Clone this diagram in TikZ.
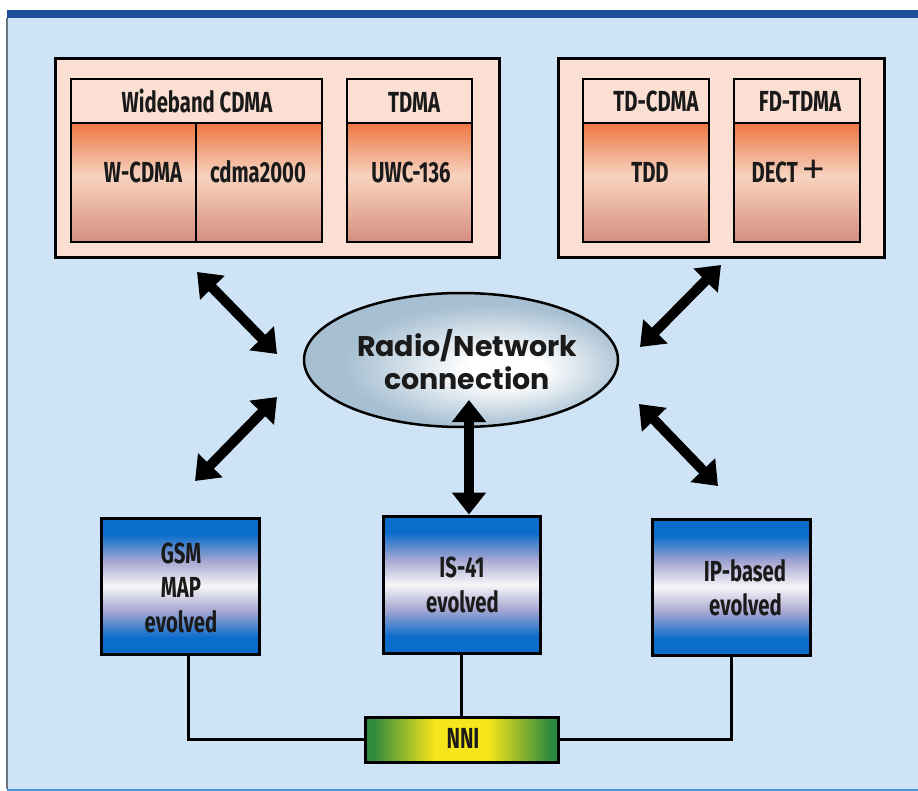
\documentclass[tikz,border=0pt]{standalone}
\usepackage{fontspec}
\usetikzlibrary{arrows.meta,shapes.geometric,calc}
\newfontfamily\condf[FakeStretch=0.70]{Fira Sans}
\newfontfamily\geof{Poppins}
\definecolor{panelblue}{HTML}{CFE3F6}
\definecolor{barblue}{HTML}{1E4E9C}
\definecolor{botblue}{HTML}{4A95D5}
\definecolor{leftgray}{HTML}{6A7580}
\definecolor{peachbg}{HTML}{FADFD2}
\definecolor{orangetop}{HTML}{EE7643}
\definecolor{peachmid}{HTML}{F6D2BF}
\definecolor{peachmidb}{HTML}{F1C3AE}
\definecolor{rosebot}{HTML}{D48E80}
\definecolor{boxblue}{HTML}{0A6CCB}
\definecolor{lavender}{HTML}{A8A8D2}
\definecolor{boxwhite}{HTML}{F6F6F8}
\definecolor{ellgray}{HTML}{A6BFD2}
\definecolor{nnigreen}{HTML}{2E8A3C}
\definecolor{nniyellow}{HTML}{F6E51A}
\definecolor{textdark}{HTML}{1A1A1A}
\pgfdeclarelayer{bg}
\pgfsetlayers{bg,main}
\pgfdeclareverticalshading{peachgrad}{100bp}{color(0bp)=(rosebot); color(25bp)=(rosebot); color(46bp)=(peachmidb); color(53bp)=(peachmid); color(75bp)=(orangetop); color(100bp)=(orangetop)}
\pgfdeclareverticalshading{bluegrad}{100bp}{color(0bp)=(boxblue); color(25bp)=(boxblue); color(31bp)=(boxblue); color(41bp)=(lavender); color(50bp)=(boxwhite); color(59bp)=(lavender); color(69bp)=(boxblue); color(75bp)=(boxblue); color(100bp)=(boxblue)}
\pgfdeclarehorizontalshading{nnigrad}{100bp}{color(0bp)=(nnigreen); color(27bp)=(nnigreen); color(43bp)=(nniyellow); color(57bp)=(nniyellow); color(73bp)=(nnigreen); color(100bp)=(nnigreen)}
\pgfdeclareradialshading{ellgrad}{\pgfpoint{8bp}{-4bp}}{color(0bp)=(white); color(6bp)=(white); color(23bp)=(ellgray); color(50bp)=(ellgray)}
\begin{document}
\begin{tikzpicture}[x=1pt,y=-1pt,
  outerbox/.style={draw=black, line width=3pt, fill=peachbg, inner sep=0pt, minimum height=199pt},
  headbox/.style={draw=black, line width=2pt, fill=peachbg, inner sep=0pt, minimum height=44pt},
  cellbox/.style={draw=black, line width=2pt, shade, shading=peachgrad, inner sep=0pt, minimum height=119pt},
  bluebox/.style={draw=black, line width=3pt, shade, shading=bluegrad, inner sep=0pt, minimum width=158pt, minimum height=136pt},
  nnibox/.style={draw=black, line width=3pt, shade, shading=nnigrad, inner sep=0pt, minimum width=193pt, minimum height=45pt},
  lbl/.style={font=\condf\bfseries\fontsize{29pt}{32pt}\selectfont, text=textdark, anchor=base, inner sep=0pt},
  etxt/.style={font=\geof\bfseries\fontsize{28.5pt}{30pt}\selectfont, text=textdark, anchor=base, inner sep=0pt},
  link/.style={draw=black, line width=3pt},
  bigarrow/.style={draw=black, line width=10pt, {Triangle[length=22pt,width=33pt]}-{Triangle[length=22pt,width=33pt]}}
]
\useasboundingbox (0,0) rectangle (918,791);
\begin{pgfonlayer}{bg}
\fill[white] (0,0) rectangle (918,791);
\fill[panelblue] (7,18) rectangle (918,789);
\fill[barblue] (7,10) rectangle (918,18);
\fill[botblue] (7,789) rectangle (918,791);
\draw[leftgray, line width=1.5pt] (7,18) -- (7,789);
\end{pgfonlayer}

% top groups
\node[outerbox, minimum width=444pt] (leftgrp) at (277,158.5) {};
\node[outerbox, minimum width=326pt] (rightgrp) at (721,158.5) {};

\node[headbox, minimum width=251pt] (wbhead) at (196.5,101) {};
\node[cellbox, minimum width=125pt] (wcdma) at (133.5,182.5) {};
\node[cellbox, minimum width=126pt] (cdma2k) at (259,182.5) {};
\node[headbox, minimum width=125pt] (tdmahead) at (409.5,101) {};
\node[cellbox, minimum width=125pt] (uwc) at (409.5,182.5) {};
\node[headbox, minimum width=126pt] (tdcdmahead) at (646,101) {};
\node[cellbox, minimum width=126pt] (tdd) at (646,182.5) {};
\node[headbox, minimum width=126pt] (fdtdmahead) at (797,101) {};
\node[cellbox, minimum width=126pt] (dect) at (797,182.5) {};

\node[lbl] (wbtxt) at (197,113) {Wideband CDMA};
\node[lbl] (tdmatxt) at (414,113) {TDMA};
\node[lbl] (tdcdmatxt) at (656,112) {TD-CDMA};
\node[lbl] (fdtdmatxt) at (800,112) {FD-TDMA};
\node[lbl] (wcdmatxt) at (143,183) {W-CDMA};
\node[lbl] (cdmatxt) at (258,183) {cdma2000};
\node[lbl] (uwctxt) at (411,183) {UWC-136};
\node[lbl] (tddtxt) at (650,183) {TDD};
\node[lbl] (decttxt) at (789,183) {DECT\kern4pt{\geof\mdseries\fontsize{36pt}{36pt}\selectfont +}};

% centre ellipse
\node[ellipse, draw=black, line width=2.5pt, shade, shading=ellgrad, minimum width=314pt, minimum height=134pt, inner sep=0pt] (radio) at (461,360) {};
\node[etxt] (radiotxt) at (467,356) {Radio/Network};
\node[etxt] (conntxt) at (467,389) {connection};

% bottom boxes
\node[bluebox] (gsm) at (180,586) {};
\node[bluebox, minimum width=157pt, minimum height=137pt] (is41) at (461.5,584.5) {};
\node[bluebox] (ipb) at (731,587) {};
\node[lbl] (gsm1) at (181,563) {GSM};
\node[lbl] (gsm2) at (181,597) {MAP};
\node[lbl] (gsm3) at (181,632) {evolved};
\node[lbl] (is1) at (462,577) {IS-41};
\node[lbl] (is2) at (462.5,612) {evolved};
\node[lbl] (ip1) at (745,581) {IP-based};
\node[lbl] (ip2) at (745.5,615) {evolved};

% NNI
\node[nnibox] (nni) at (461.5,739.5) {};
\node[lbl] (nnitxt) at (463,748) {NNI};
\begin{pgfonlayer}{bg}
\draw[link] ([xshift=8pt]gsm.south) |- (nni.west);
\draw[link] (is41.south) -- (nni.north);
\draw[link] (ipb.south) |- (nni.east);
\end{pgfonlayer}

% arrows
\coordinate (ul1) at (197,272);
\coordinate (ul2) at (277,354);
\coordinate (ll1) at (277,397);
\coordinate (ll2) at (195,481);
\coordinate (ur1) at (721,265);
\coordinate (ur2) at (640,347);
\coordinate (lr1) at (639,404);
\coordinate (lr2) at (718,486);
\coordinate (vt) at (469,400);
\draw[bigarrow] (ul1) -- (ul2);
\draw[bigarrow] (ll1) -- (ll2);
\draw[bigarrow] (ur1) -- (ur2);
\draw[bigarrow] (lr1) -- (lr2);
\draw[bigarrow] (vt) -- (vt |- is41.north);
\end{tikzpicture}
\end{document}
